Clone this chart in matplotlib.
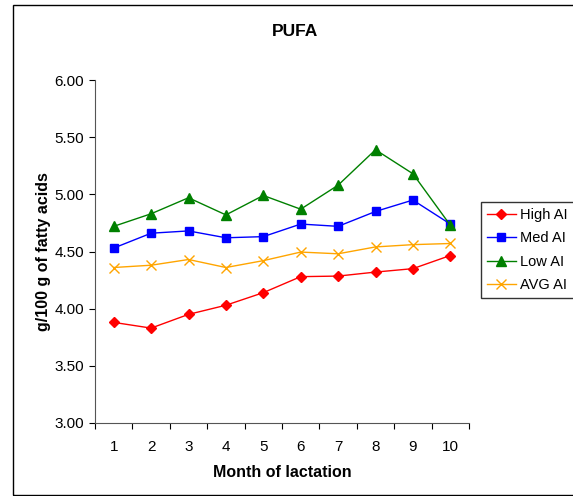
import matplotlib
matplotlib.use("Agg")
import matplotlib.pyplot as plt
from matplotlib.patches import Rectangle

plt.rcParams["font.family"] = ["Liberation Sans", "DejaVu Sans"]

months = [1, 2, 3, 4, 5, 6, 7, 8, 9, 10]
high_ai = [3.88, 3.83, 3.95, 4.03, 4.14, 4.28, 4.285, 4.32, 4.35, 4.465]
med_ai = [4.53, 4.66, 4.68, 4.62, 4.63, 4.74, 4.72, 4.85, 4.95, 4.74]
low_ai = [4.72, 4.83, 4.97, 4.82, 4.99, 4.87, 5.08, 5.39, 5.18, 4.73]
avg_ai = [4.36, 4.38, 4.43, 4.36, 4.42, 4.495, 4.48, 4.54, 4.56, 4.57]
y_ticks = [3.00, 3.50, 4.00, 4.50, 5.00, 5.50, 6.00]

fig = plt.figure(figsize=(5.73, 4.96), dpi=100)
fig.set_facecolor("white")
ax = fig.add_axes([95 / 573, 1 - 423 / 496, 374 / 573, 343 / 496])

# series
ax.plot(months, high_ai, color="#FF0000", marker="D", markersize=5, linewidth=1, label="High AI")
ax.plot(months, med_ai, color="#0000FF", marker="s", markersize=5.5, linewidth=1, label="Med AI")
ax.plot(months, low_ai, color="#008000", marker="^", markersize=6.5, linewidth=1, label="Low AI")
ax.plot(months, avg_ai, color="#FFA500", marker="x", markersize=6.5, markeredgewidth=1, linewidth=1, label="AVG AI")

ax.set_xlim(0.5, 10.5)
ax.set_ylim(3.0, 6.0)
ax.set_yticks(y_ticks)
ax.set_yticklabels([f"{v:.2f}" for v in y_ticks], fontsize=11)
ax.set_xticks([m + 0.5 for m in [0] + months])
ax.set_xticklabels([])
ax.set_xticks(months, minor=True)
ax.set_xticklabels([str(m) for m in months], minor=True, fontsize=11)
ax.tick_params(axis="x", which="minor", length=0, pad=12)
ax.tick_params(axis="x", which="major", direction="out", length=4)
ax.tick_params(axis="y", direction="out", length=4, pad=4)

for side in ["top", "right"]:
    ax.spines[side].set_visible(False)
ax.spines["left"].set_color("#555555")
ax.spines["bottom"].set_color("#555555")

ax.set_xlabel("Month of lactation", fontsize=11.5, fontweight="bold", labelpad=8)
ax.set_ylabel("g/100 g of fatty acids", fontsize=11.5, fontweight="bold", labelpad=2)
fig.text(295 / 573, 1 - 31 / 496, "PUFA", ha="center", va="center", fontsize=12.5, fontweight="bold")

leg = ax.legend(loc="upper left", bbox_to_anchor=(481 / 573, 1 - 202 / 496), bbox_transform=fig.transFigure,
                fontsize=10.5, frameon=True, fancybox=False, edgecolor="black", borderpad=0.4,
                handlelength=2.0, handletextpad=0.3, labelspacing=0.65, borderaxespad=0)
leg.get_frame().set_linewidth(1)

# outer chart border
fig.patches.append(Rectangle((13 / 573, 1 / 496), 1, 490 / 496, transform=fig.transFigure,
                             fill=False, edgecolor="black", linewidth=1))

plt.savefig("out.png", dpi=100, facecolor="white")
plt.close()
